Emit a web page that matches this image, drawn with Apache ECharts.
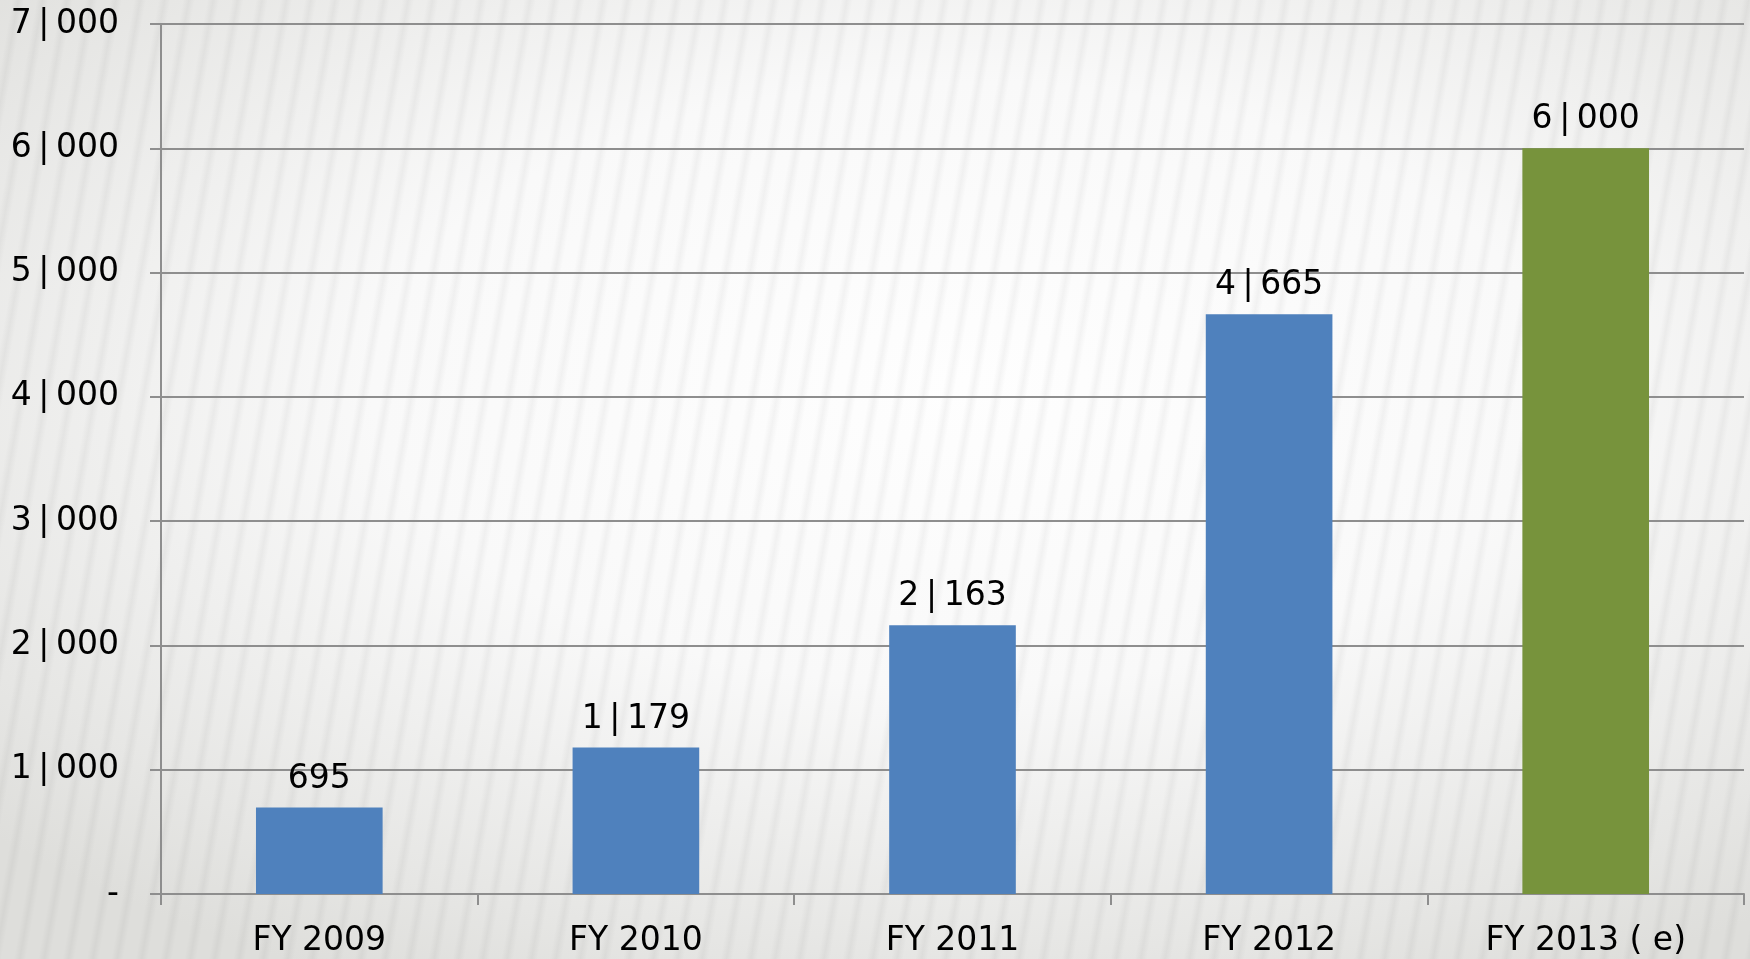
<!DOCTYPE html>
<html>
<head>
<meta charset="utf-8">
<script src="https://cdn.jsdelivr.net/npm/echarts@6/dist/echarts.min.js"></script>
<style>
  html, body { margin: 0; padding: 0; }
  #main {
    width: 1750px; height: 959px;
    background:
      repeating-linear-gradient(100deg, rgba(0,0,0,0) 0px, rgba(0,0,0,0) 12px, rgba(0,0,0,0.04) 18px, rgba(0,0,0,0) 24px),
      radial-gradient(ellipse 75% 70% at 55% 40%, #fefefe 0%, #f9f9f9 45%, #e6e6e4 85%, #dededb 100%);
  }
</style>
</head>
<body>
<div id="main"></div>
<script>
// 数据
var categories = ['FY 2009', 'FY 2010', 'FY 2011', 'FY 2012', 'FY 2013 ( e)'];
var values = [695, 1179, 2163, 4665, 6000];
var barColors = ['#4f81bd', '#4f81bd', '#4f81bd', '#4f81bd', '#77933c'];

// 千位分隔符在原图中显示为 "|"（两侧留一点空隙）
function fmt(v) {
  if (v === 0) return '-';
  return String(v).replace(/\B(?=(\d{3})+(?!\d))/g, '\u2009|\u2009');
}

var chartDom = document.getElementById('main');
var myChart = echarts.init(chartDom);

var font = 'DejaVu Sans';
var option = {
  backgroundColor: 'transparent',
  animation: false,
  grid: { left: 161, right: 6, top: 24, bottom: 65 },
  xAxis: {
    type: 'category',
    data: categories,
    axisLine: { lineStyle: { color: '#8e8e8e', width: 2 } },
    axisTick: { show: true, length: 11, lineStyle: { color: '#8e8e8e', width: 2 } },
    axisLabel: { color: '#000', fontFamily: font, fontSize: 33, margin: 31 }
  },
  yAxis: {
    type: 'value',
    min: 0,
    max: 7000,
    interval: 1000,
    axisLine: { show: true, lineStyle: { color: '#8e8e8e', width: 2 } },
    axisTick: { show: true, length: 11, lineStyle: { color: '#8e8e8e', width: 2 } },
    splitLine: { lineStyle: { color: '#8e8e8e', width: 2 } },
    axisLabel: {
      color: '#000', fontFamily: font, fontSize: 33, margin: 42,
      padding: [5, 0, 0, 0],
      formatter: fmt
    }
  },
  series: [{
    type: 'bar',
    barCategoryGap: '60%',
    data: values.map(function (v, i) {
      return { value: v, itemStyle: { color: barColors[i] } };
    }),
    label: {
      show: true,
      position: 'top',
      distance: 12,
      color: '#000',
      fontFamily: font,
      fontSize: 33,
      formatter: function (p) { return fmt(p.value); }
    }
  }]
};
option && myChart.setOption(option);
</script>
</body>
</html>
